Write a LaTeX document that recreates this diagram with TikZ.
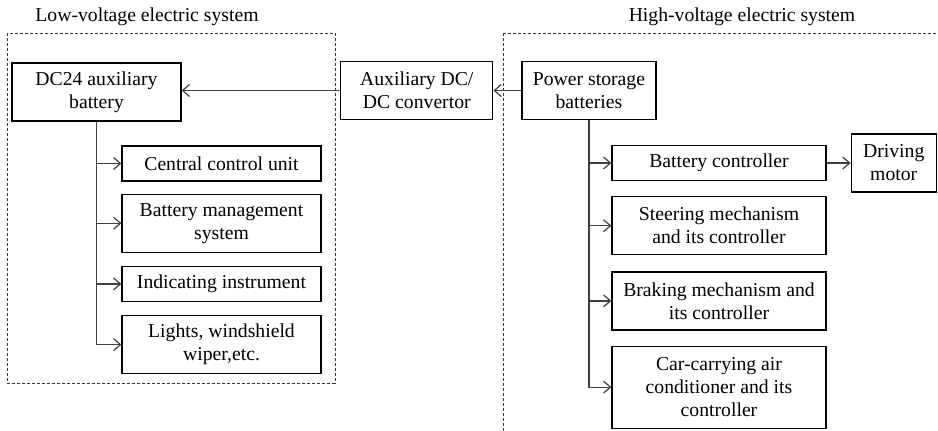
\documentclass[tikz,border=0pt]{standalone}
\usepackage{fontspec}
\setmainfont{Liberation Serif}
\usetikzlibrary{arrows.meta, positioning}
\tikzset{
    base/.style = {
        draw=black, line width=0.6pt, align=center, inner xsep=2pt, inner ysep=2pt,
        font=\fontsize{9.85}{11.5}\selectfont
    },
    % Components
    unit/.style   = {base, rectangle, minimum height=29pt},
    lvpart/.style = {base, rectangle, minimum width=99.5pt, minimum height=17.5pt},
    hvpart/.style = {base, rectangle, minimum width=107pt, minimum height=17.5pt},
    tall/.style   = {minimum height=29pt},
    taller/.style = {minimum height=41pt},
    % Edges and annotations
    arrow/.style   = {draw=black!75, line width=0.6pt, -{Straight Barb[length=3.5pt, width=6pt]}},
    system/.style  = {draw=black!80, line width=0.5pt, dash pattern=on 1.5pt off 1pt},
    caption/.style = {font=\fontsize{9.85}{11.5}\selectfont}
}

\begin{document}
\begin{tikzpicture}[x=0.5pt, y=-0.5pt]
    \useasboundingbox (0,0) rectangle (938,430);
    \clip (0,0) rectangle (938,430);

    % Systems
    \node (lvtitle) [caption] at (147,17) {Low-voltage electric system};
    \node (hvtitle) [caption] at (742,17) {High-voltage electric system};
    \draw [system] (7,33) rectangle (335,383);
    \draw [system] (503,33) rectangle (960,460);

    % Low-voltage side
    \node (dc24) [unit, minimum width=84.5pt] at (96.5,92) {DC24 auxiliary\\battery};
    \node (ccu) [lvpart] at (221.5,163.5) {Central control unit};
    \node (bms) [lvpart, tall, below=6pt of ccu] {Battery management\\system};
    \node (ind) [lvpart, below=6.5pt of bms] {Indicating instrument};
    \node (lights) [lvpart, tall, below=6.5pt of ind] {Lights, windshield\\wiper,etc.};

    % High-voltage side
    \node (power) [unit, minimum width=67pt] at (589,90.5) {Power storage\\batteries};
    \node (aux) [unit, minimum width=76pt, left=14pt of power] {Auxiliary DC/\\DC convertor};
    \node (batc) [hvpart] at (719,163) {Battery controller};
    \node (motor) [unit, minimum width=42.5pt, right=12pt of batc] {Driving\\motor};
    \node (steer) [hvpart, tall, below=7.5pt of batc] {Steering mechanism\\and its controller};
    \node (brake) [hvpart, tall, below=8pt of steer] {Braking mechanism and\\its controller};
    \node (car) [hvpart, taller, below=7.5pt of brake] {Car-carrying air\\conditioner and its\\controller};

    \draw [arrow] (power) -- (aux);
    \draw [arrow] (aux.west) -- (aux.west -| dc24.east);
    \draw [arrow] (batc) -- (motor);

    \draw [arrow] (dc24.south) |- (ccu.west);
    \draw [arrow] (dc24.south) |- (bms.west);
    \draw [arrow] (dc24.south) |- (ind.west);
    \draw [arrow] (dc24.south) |- (lights.west);

    \draw [arrow] (power.south) |- (batc.west);
    \draw [arrow] (power.south) |- (steer.west);
    \draw [arrow] (power.south) |- (brake.west);
    \draw [arrow] (power.south) |- (car.west);
\end{tikzpicture}
\end{document}
